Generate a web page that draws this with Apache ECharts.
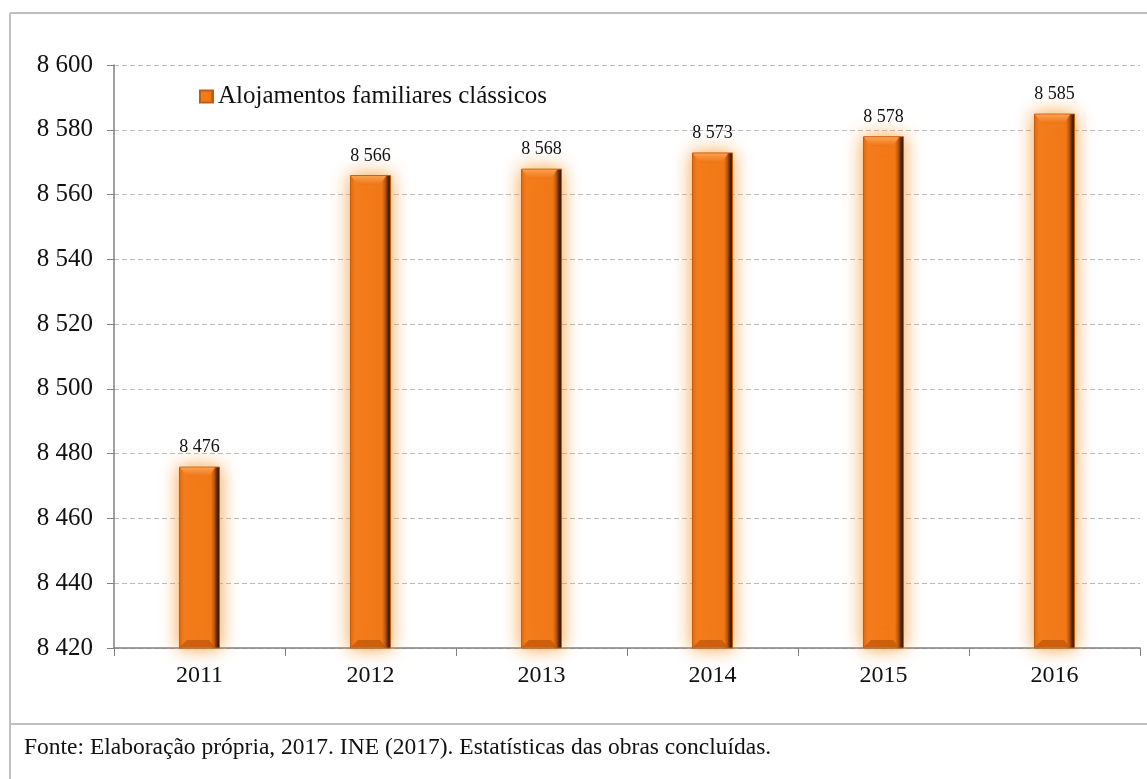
<!DOCTYPE html>
<html>
<head>
<meta charset="utf-8">
<style>
  html, body { margin: 0; padding: 0; background: #ffffff; }
  #chart { width: 1147px; height: 779px; }
</style>
<script src="https://cdn.jsdelivr.net/npm/echarts@6/dist/echarts.min.js"></script>
</head>
<body>
<div id="chart"></div>
<script>
// Alojamentos familiares clássicos, 2011–2016
const years = ['2011', '2012', '2013', '2014', '2015', '2016'];
const dwellings = [8476, 8566, 8568, 8573, 8578, 8585];
const seriesName = 'Alojamentos familiares clássicos';
const sourceNote = 'Fonte: Elaboração própria, 2017. INE (2017). Estatísticas das obras concluídas.';

const serif = '"Liberation Serif", "DejaVu Serif", serif';
const fmt = v => String(v).replace(/\B(?=(\d{3})+(?!\d))/g, ' ');
const Y_MIN = 8420;
const BAR_W = 41;

const chart = echarts.init(document.getElementById('chart'));

const barFill = new echarts.graphic.LinearGradient(0, 0, 1, 0, [
  { offset: 0, color: '#E0660C' },
  { offset: 0.12, color: '#F47C1C' },
  { offset: 0.78, color: '#F27816' },
  { offset: 0.86, color: '#B9540C' },
  { offset: 0.93, color: '#4A2206' },
  { offset: 1, color: '#2A1204' }
]);

// bevelled caps drawn on top of each bar
function bevel(params, api) {
  const top = api.coord([api.value(0), api.value(1)]);
  const base = api.coord([api.value(0), Y_MIN]);
  const x0 = top[0] - BAR_W / 2, x1 = top[0] + BAR_W / 2;
  const d = 10, inset = 8;
  return {
    type: 'group',
    children: [
      {
        type: 'polygon',
        shape: { points: [[x0 + 1, top[1] + 1], [x1 - 5, top[1] + 1], [x1 - inset - 3, top[1] + d], [x0 + inset, top[1] + d]] },
        style: {
          fill: new echarts.graphic.LinearGradient(0, 0, 0, 1, [
            { offset: 0, color: '#FBA04E' },
            { offset: 1, color: '#EE7414' }
          ])
        }
      },
      {
        type: 'polygon',
        shape: { points: [[x0 + 1, base[1] - 1], [x1 - 5, base[1] - 1], [x1 - inset - 3, base[1] - d + 2], [x0 + inset, base[1] - d + 2]] },
        style: { fill: '#C65A0C', opacity: 0.85 }
      }
    ]
  };
}

chart.setOption({
  backgroundColor: '#ffffff',
  animation: false,
  grid: { left: 114, right: 7, top: 65, bottom: 131, containLabel: false },
  legend: {
    left: 194, top: 79,
    itemWidth: 13, itemHeight: 12, itemGap: 3,
    textStyle: { fontFamily: serif, fontSize: 25, color: '#111111' },
    data: [{ name: seriesName, icon: 'rect' }]
  },
  xAxis: {
    type: 'category',
    data: years,
    axisLine: { lineStyle: { color: '#808080', width: 1.5 } },
    axisTick: { show: true, length: 8, lineStyle: { color: '#808080' } },
    axisLabel: { fontFamily: serif, fontSize: 24, color: '#111111', margin: 16 }
  },
  yAxis: {
    type: 'value',
    min: Y_MIN, max: 8600, interval: 20,
    axisLine: { show: true, lineStyle: { color: '#808080', width: 1.5 } },
    axisTick: { show: true, length: 7, lineStyle: { color: '#808080' } },
    axisLabel: { fontFamily: serif, fontSize: 25, color: '#111111', margin: 21, formatter: fmt },
    splitLine: { lineStyle: { color: '#BDBDBD', type: [5, 3], width: 1 } }
  },
  series: [
    {
      name: seriesName,
      type: 'bar',
      data: dwellings,
      barWidth: BAR_W,
      itemStyle: {
        color: barFill,
        borderColor: '#C45C0E',
        borderWidth: 1,
        shadowColor: 'rgba(245, 145, 35, 0.85)',
        shadowBlur: 18
      },
      label: {
        show: true, position: 'top', distance: 10,
        fontFamily: serif, fontSize: 18, color: '#111111',
        formatter: p => fmt(p.value)
      },
      z: 2
    },
    {
      name: 'bevel',
      type: 'custom',
      renderItem: bevel,
      data: dwellings.map((v, i) => [i, v]),
      silent: true,
      z: 3
    }
  ],
  graphic: [
    { type: 'line', shape: { x1: 10, y1: 13, x2: 1147, y2: 13 }, style: { stroke: '#BFBFBF', lineWidth: 2 } },
    { type: 'line', shape: { x1: 10, y1: 13, x2: 10, y2: 779 }, style: { stroke: '#BFBFBF', lineWidth: 2 } },
    { type: 'line', shape: { x1: 10, y1: 724, x2: 1147, y2: 724 }, style: { stroke: '#BFBFBF', lineWidth: 2 } },
    { type: 'text', left: 24, top: 736, style: { text: sourceNote, font: '23.5px ' + serif, fill: '#111111' } }
  ]
});
</script>
</body>
</html>
